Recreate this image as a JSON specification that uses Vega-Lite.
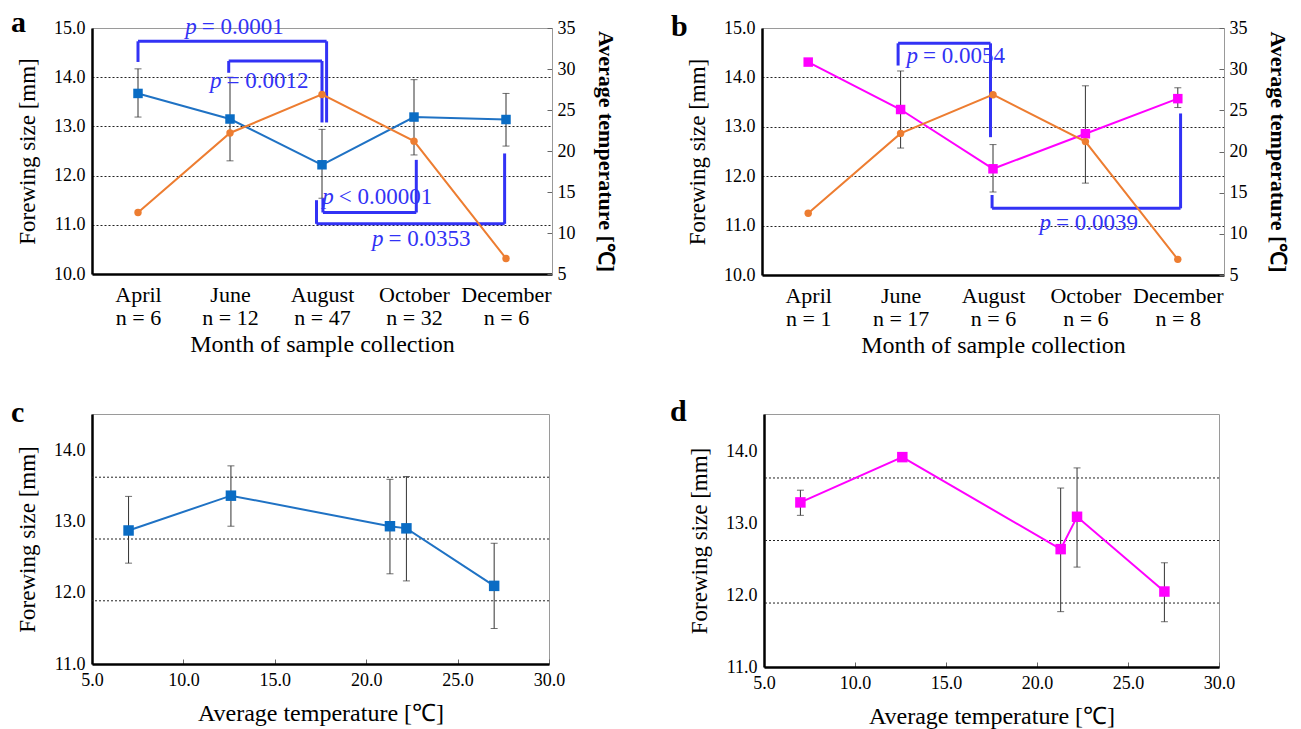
{
  "$schema": "https://vega.github.io/schema/vega-lite/v6.json",
  "padding": {"left": 10, "top": 7, "right": 0, "bottom": 0},
  "spacing": 38,
  "datasets": {
    "a_size": [
      {"month": "April", "n": 6, "idx": 0, "size": 13.67, "lo": 13.19, "hi": 14.17},
      {"month": "June", "n": 12, "idx": 1, "size": 13.15, "lo": 12.30, "hi": 14.00},
      {"month": "August", "n": 47, "idx": 2, "size": 12.22, "lo": 11.54, "hi": 12.94},
      {"month": "October", "n": 32, "idx": 3, "size": 13.19, "lo": 12.42, "hi": 13.95},
      {"month": "December", "n": 6, "idx": 4, "size": 13.14, "lo": 12.60, "hi": 13.67}
    ],
    "b_size": [
      {"month": "April", "n": 1, "idx": 0, "size": 14.31, "lo": null, "hi": null},
      {"month": "June", "n": 17, "idx": 1, "size": 13.35, "lo": 12.57, "hi": 14.13},
      {"month": "August", "n": 6, "idx": 2, "size": 12.15, "lo": 11.68, "hi": 12.64},
      {"month": "October", "n": 6, "idx": 3, "size": 12.86, "lo": 11.86, "hi": 13.83},
      {"month": "December", "n": 8, "idx": 4, "size": 13.57, "lo": 13.39, "hi": 13.79}
    ],
    "temp": [
      {"month": "April", "idx": 0, "temp": 12.5},
      {"month": "June", "idx": 1, "temp": 22.2},
      {"month": "August", "idx": 2, "temp": 26.9},
      {"month": "October", "idx": 3, "temp": 21.2},
      {"month": "December", "idx": 4, "temp": 6.9}
    ],
    "a_br": [
      {"bx": 0, "by": 14.31, "bx2": 0, "by2": 14.73},
      {"bx": 0, "by": 14.73, "bx2": 2.05, "by2": 14.73},
      {"bx": 2.05, "by": 14.73, "bx2": 2.05, "by2": 13.08},
      {"bx": 0.986, "by": 14.09, "bx2": 0.986, "by2": 14.33},
      {"bx": 0.986, "by": 14.33, "bx2": 2.0, "by2": 14.33},
      {"bx": 2.0, "by": 14.33, "bx2": 2.0, "by2": 13.08},
      {"bx": 2.01, "by": 11.54, "bx2": 2.01, "by2": 11.25},
      {"bx": 2.01, "by": 11.25, "bx2": 3.025, "by2": 11.25},
      {"bx": 3.025, "by": 11.25, "bx2": 3.025, "by2": 12.32},
      {"bx": 1.94, "by": 11.50, "bx2": 1.94, "by2": 11.02},
      {"bx": 1.94, "by": 11.02, "bx2": 3.985, "by2": 11.02},
      {"bx": 3.985, "by": 11.02, "bx2": 3.985, "by2": 12.45}
    ],
    "a_txt": [
      {"tx": 0.66, "ty": 15.03, "op": "= 0.0001"},
      {"tx": 0.93, "ty": 13.92, "op": "= 0.0012"},
      {"tx": 2.15, "ty": 11.56, "op": "< 0.00001"},
      {"tx": 2.69, "ty": 10.72, "op": "= 0.0353"}
    ],
    "b_br": [
      {"bx": 0.973, "by": 14.24, "bx2": 0.973, "by2": 14.69},
      {"bx": 0.973, "by": 14.69, "bx2": 1.973, "by2": 14.69},
      {"bx": 1.973, "by": 14.69, "bx2": 1.973, "by2": 12.79},
      {"bx": 1.99, "by": 11.62, "bx2": 1.99, "by2": 11.35},
      {"bx": 1.99, "by": 11.35, "bx2": 4.03, "by2": 11.35},
      {"bx": 4.03, "by": 11.35, "bx2": 4.03, "by2": 13.27}
    ],
    "b_txt": [
      {"tx": 1.21, "ty": 14.43, "op": "= 0.0054"},
      {"tx": 2.65, "ty": 11.05, "op": "= 0.0039"}
    ],
    "c_pts": [
      {"temp": 7.0, "size": 12.88, "lo": 12.42, "hi": 13.36},
      {"temp": 12.6, "size": 13.37, "lo": 12.94, "hi": 13.79},
      {"temp": 21.3, "size": 12.94, "lo": 12.27, "hi": 13.60},
      {"temp": 22.2, "size": 12.91, "lo": 12.17, "hi": 13.64},
      {"temp": 27.0, "size": 12.10, "lo": 11.50, "hi": 12.70}
    ],
    "d_pts": [
      {"temp": 7.0, "size": 13.29, "lo": 13.11, "hi": 13.46},
      {"temp": 12.6, "size": 13.92, "lo": null, "hi": null},
      {"temp": 21.3, "size": 12.64, "lo": 11.77, "hi": 13.49},
      {"temp": 22.2, "size": 13.09, "lo": 12.39, "hi": 13.77},
      {"temp": 27.0, "size": 12.05, "lo": 11.63, "hi": 12.45}
    ],
    "cd_grid": [
      {"g": 11.89}, {"g": 12.76}, {"g": 13.63}
    ]
  },
  "vconcat": [
    {
      "spacing": 53,
      "hconcat": [
        {
          "title": {"text": "a", "dx": -81, "offset": -22},
          "width": 460,
          "height": 246,
          "resolve": {"scale": {"y": "independent"}},
          "layer": [
            {
              "layer": [
                {
                  "data": {"name": "a_size"},
                  "mark": {"type": "rule", "color": "#333", "strokeWidth": 1},
                  "encoding": {
                    "x": {"field": "idx", "type": "quantitative", "title": "Month of sample collection",
                      "scale": {"domain": [-0.5, 4.5], "nice": false, "zero": false},
                      "axis": {"values": [0, 1, 2, 3, 4], "labelExpr": "[['April','n = 6'],['June','n = 12'],['August','n = 47'],['October','n = 32'],['December','n = 6']][datum.value]", "labelFontSize": 22, "labelLineHeight": 23, "labelPadding": 10, "labelOverlap": false, "labelFlush": false, "titleFontSize": 24, "titlePadding": 4}},
                    "y": {"field": "lo", "type": "quantitative", "title": "Forewing size [mm]",
                      "scale": {"domain": [10, 15], "nice": false, "zero": false},
                      "axis": {"values": [10, 11, 12, 13, 14, 15], "format": ".1f", "grid": true, "gridDash": [2, 2], "gridColor": "#222", "gridOpacity": {"condition": {"test": "datum.value == 10 || datum.value == 15", "value": 0}, "value": 1}, "labelFontSize": 18, "labelPadding": 7, "titleFontSize": 23, "titlePadding": 14}},
                    "y2": {"field": "hi"}
                  }
                },
                {
                  "data": {"name": "a_size"},
                  "mark": {"type": "tick", "orient": "horizontal", "size": 7, "thickness": 1, "color": "#333"},
                  "encoding": {
                    "x": {"field": "idx", "type": "quantitative", "title": "Month of sample collection"},
                    "y": {"field": "hi", "type": "quantitative", "title": "Forewing size [mm]"}
                  }
                },
                {
                  "data": {"name": "a_size"},
                  "mark": {"type": "tick", "orient": "horizontal", "size": 7, "thickness": 1, "color": "#333"},
                  "encoding": {
                    "x": {"field": "idx", "type": "quantitative", "title": "Month of sample collection"},
                    "y": {"field": "lo", "type": "quantitative", "title": "Forewing size [mm]"}
                  }
                },
                {
                  "data": {"name": "a_size"},
                  "mark": {"type": "line", "color": "#1f72c4", "strokeWidth": 2},
                  "encoding": {
                    "x": {"field": "idx", "type": "quantitative", "title": "Month of sample collection"},
                    "y": {"field": "size", "type": "quantitative", "title": "Forewing size [mm]"}
                  }
                },
                {
                  "data": {"name": "a_size"},
                  "mark": {"type": "square", "size": 90, "color": "#0a6cc4", "opacity": 1},
                  "encoding": {
                    "x": {"field": "idx", "type": "quantitative", "title": "Month of sample collection"},
                    "y": {"field": "size", "type": "quantitative", "title": "Forewing size [mm]"}
                  }
                },
                {
                  "data": {"name": "a_br"},
                  "mark": {"type": "rule", "color": "#3232f5", "strokeWidth": 3},
                  "encoding": {
                    "x": {"field": "bx", "type": "quantitative", "title": "Month of sample collection"},
                    "x2": {"field": "bx2"},
                    "y": {"field": "by", "type": "quantitative", "title": "Forewing size [mm]"},
                    "y2": {"field": "by2"}
                  }
                },
                {
                  "data": {"name": "a_txt"},
                  "mark": {"type": "text", "text": "p", "fontStyle": "italic", "align": "right", "baseline": "middle", "dx": -2, "fontSize": 23, "color": "#3232f5"},
                  "encoding": {
                    "x": {"field": "tx", "type": "quantitative", "title": "Month of sample collection"},
                    "y": {"field": "ty", "type": "quantitative", "title": "Forewing size [mm]"}
                  }
                },
                {
                  "data": {"name": "a_txt"},
                  "mark": {"type": "text", "align": "left", "baseline": "middle", "dx": 3, "fontSize": 23, "color": "#3232f5"},
                  "encoding": {
                    "x": {"field": "tx", "type": "quantitative", "title": "Month of sample collection"},
                    "y": {"field": "ty", "type": "quantitative", "title": "Forewing size [mm]"},
                    "text": {"field": "op"}
                  }
                }
              ]
            },
            {
              "data": {"name": "temp"},
              "encoding": {
                "x": {"field": "idx", "type": "quantitative", "title": "Month of sample collection"},
                "y": {"field": "temp", "type": "quantitative", "title": "Average temperature [℃]",
                  "scale": {"domain": [5, 35], "nice": false, "zero": false},
                  "axis": {"orient": "right", "values": [5, 10, 15, 20, 25, 30, 35], "labelFontSize": 18, "labelPadding": 10, "ticks": true, "tickSize": -5, "tickColor": "#666", "titleFontSize": 22, "titleFontWeight": "bold", "titlePadding": 18, "domainColor": "#999", "domainWidth": 1, "grid": false}}
              },
              "layer": [
                {"mark": {"type": "line", "color": "#ed7d31", "strokeWidth": 2}},
                {"mark": {"type": "circle", "size": 55, "color": "#ed7d31", "opacity": 1}}
              ]
            }
          ]
        },
        {
          "title": {"text": "b", "dx": -91, "offset": -23},
          "width": 462,
          "height": 247,
          "resolve": {"scale": {"y": "independent"}},
          "layer": [
            {
              "layer": [
                {
                  "data": {"name": "b_size"},
                  "mark": {"type": "rule", "color": "#333", "strokeWidth": 1},
                  "encoding": {
                    "x": {"field": "idx", "type": "quantitative", "title": "Month of sample collection",
                      "scale": {"domain": [-0.5, 4.5], "nice": false, "zero": false},
                      "axis": {"values": [0, 1, 2, 3, 4], "labelExpr": "[['April','n = 1'],['June','n = 17'],['August','n = 6'],['October','n = 6'],['December','n = 8']][datum.value]", "labelFontSize": 22, "labelLineHeight": 23, "labelPadding": 10, "labelOverlap": false, "labelFlush": false, "titleFontSize": 24, "titlePadding": 4}},
                    "y": {"field": "lo", "type": "quantitative", "title": "Forewing size [mm]",
                      "scale": {"domain": [10, 15], "nice": false, "zero": false},
                      "axis": {"values": [10, 11, 12, 13, 14, 15], "format": ".1f", "grid": true, "gridDash": [2, 2], "gridColor": "#222", "gridOpacity": {"condition": {"test": "datum.value == 10 || datum.value == 15", "value": 0}, "value": 1}, "labelFontSize": 18, "labelPadding": 7, "titleFontSize": 23, "titlePadding": 14}},
                    "y2": {"field": "hi"}
                  }
                },
                {
                  "data": {"name": "b_size"},
                  "mark": {"type": "tick", "orient": "horizontal", "size": 7, "thickness": 1, "color": "#333"},
                  "encoding": {
                    "x": {"field": "idx", "type": "quantitative", "title": "Month of sample collection"},
                    "y": {"field": "hi", "type": "quantitative", "title": "Forewing size [mm]"}
                  }
                },
                {
                  "data": {"name": "b_size"},
                  "mark": {"type": "tick", "orient": "horizontal", "size": 7, "thickness": 1, "color": "#333"},
                  "encoding": {
                    "x": {"field": "idx", "type": "quantitative", "title": "Month of sample collection"},
                    "y": {"field": "lo", "type": "quantitative", "title": "Forewing size [mm]"}
                  }
                },
                {
                  "data": {"name": "b_size"},
                  "mark": {"type": "line", "color": "#ff00ff", "strokeWidth": 2},
                  "encoding": {
                    "x": {"field": "idx", "type": "quantitative", "title": "Month of sample collection"},
                    "y": {"field": "size", "type": "quantitative", "title": "Forewing size [mm]"}
                  }
                },
                {
                  "data": {"name": "b_size"},
                  "mark": {"type": "square", "size": 90, "color": "#ff00ff", "opacity": 1},
                  "encoding": {
                    "x": {"field": "idx", "type": "quantitative", "title": "Month of sample collection"},
                    "y": {"field": "size", "type": "quantitative", "title": "Forewing size [mm]"}
                  }
                },
                {
                  "data": {"name": "b_br"},
                  "mark": {"type": "rule", "color": "#3232f5", "strokeWidth": 3},
                  "encoding": {
                    "x": {"field": "bx", "type": "quantitative", "title": "Month of sample collection"},
                    "x2": {"field": "bx2"},
                    "y": {"field": "by", "type": "quantitative", "title": "Forewing size [mm]"},
                    "y2": {"field": "by2"}
                  }
                },
                {
                  "data": {"name": "b_txt"},
                  "mark": {"type": "text", "text": "p", "fontStyle": "italic", "align": "right", "baseline": "middle", "dx": -2, "fontSize": 23, "color": "#3232f5"},
                  "encoding": {
                    "x": {"field": "tx", "type": "quantitative", "title": "Month of sample collection"},
                    "y": {"field": "ty", "type": "quantitative", "title": "Forewing size [mm]"}
                  }
                },
                {
                  "data": {"name": "b_txt"},
                  "mark": {"type": "text", "align": "left", "baseline": "middle", "dx": 3, "fontSize": 23, "color": "#3232f5"},
                  "encoding": {
                    "x": {"field": "tx", "type": "quantitative", "title": "Month of sample collection"},
                    "y": {"field": "ty", "type": "quantitative", "title": "Forewing size [mm]"},
                    "text": {"field": "op"}
                  }
                }
              ]
            },
            {
              "data": {"name": "temp"},
              "encoding": {
                "x": {"field": "idx", "type": "quantitative", "title": "Month of sample collection"},
                "y": {"field": "temp", "type": "quantitative", "title": "Average temperature [℃]",
                  "scale": {"domain": [5, 35], "nice": false, "zero": false},
                  "axis": {"orient": "right", "values": [5, 10, 15, 20, 25, 30, 35], "labelFontSize": 18, "labelPadding": 10, "ticks": true, "tickSize": -5, "tickColor": "#666", "titleFontSize": 22, "titleFontWeight": "bold", "titlePadding": 18, "domainColor": "#999", "domainWidth": 1, "grid": false}}
              },
              "layer": [
                {"mark": {"type": "line", "color": "#ed7d31", "strokeWidth": 2}},
                {"mark": {"type": "circle", "size": 55, "color": "#ed7d31", "opacity": 1}}
              ]
            }
          ]
        }
      ]
    },
    {
      "spacing": 103,
      "hconcat": [
        {
          "title": {"text": "c", "dx": -81, "offset": -14},
          "width": 457,
          "height": 250,
          "layer": [
            {
              "data": {"name": "cd_grid"},
              "mark": {"type": "rule", "color": "#222", "strokeWidth": 1, "strokeDash": [2, 2]},
              "encoding": {
                "y": {"field": "g", "type": "quantitative", "title": "Forewing size [mm]",
                  "scale": {"domain": [11, 14.52], "nice": false, "zero": false},
                  "axis": {"values": [11, 12, 13, 14], "format": ".1f", "labelFontSize": 18, "labelPadding": 7, "titleFontSize": 23, "titlePadding": 14}}
              }
            },
            {
              "data": {"name": "c_pts"},
              "mark": {"type": "rule", "color": "#333", "strokeWidth": 1},
              "encoding": {
                "x": {"field": "temp", "type": "quantitative", "title": "Average temperature [℃]",
                  "scale": {"domain": [5, 30], "nice": false, "zero": false},
                  "axis": {"values": [5, 10, 15, 20, 25, 30], "format": ".1f", "labelFlush": false, "ticks": true, "tickSize": -5, "tickColor": "#666", "labelFontSize": 18, "labelPadding": 12, "titleFontSize": 24, "titlePadding": 12}},
                "y": {"field": "lo", "type": "quantitative", "title": "Forewing size [mm]"},
                "y2": {"field": "hi"}
              }
            },
            {
              "data": {"name": "c_pts"},
              "mark": {"type": "tick", "orient": "horizontal", "size": 7, "thickness": 1, "color": "#333"},
              "encoding": {
                "x": {"field": "temp", "type": "quantitative", "title": "Average temperature [℃]"},
                "y": {"field": "hi", "type": "quantitative", "title": "Forewing size [mm]"}
              }
            },
            {
              "data": {"name": "c_pts"},
              "mark": {"type": "tick", "orient": "horizontal", "size": 7, "thickness": 1, "color": "#333"},
              "encoding": {
                "x": {"field": "temp", "type": "quantitative", "title": "Average temperature [℃]"},
                "y": {"field": "lo", "type": "quantitative", "title": "Forewing size [mm]"}
              }
            },
            {
              "data": {"name": "c_pts"},
              "mark": {"type": "line", "color": "#1f72c4", "strokeWidth": 2},
              "encoding": {
                "x": {"field": "temp", "type": "quantitative", "title": "Average temperature [℃]"},
                "y": {"field": "size", "type": "quantitative", "title": "Forewing size [mm]"}
              }
            },
            {
              "data": {"name": "c_pts"},
              "mark": {"type": "square", "size": 110, "color": "#0a6cc4", "opacity": 1},
              "encoding": {
                "x": {"field": "temp", "type": "quantitative", "title": "Average temperature [℃]"},
                "y": {"field": "size", "type": "quantitative", "title": "Forewing size [mm]"}
              }
            }
          ]
        },
        {
          "title": {"text": "d", "dx": -94, "offset": -13},
          "width": 455,
          "height": 253,
          "layer": [
            {
              "data": {"name": "cd_grid"},
              "mark": {"type": "rule", "color": "#222", "strokeWidth": 1, "strokeDash": [2, 2]},
              "encoding": {
                "y": {"field": "g", "type": "quantitative", "title": "Forewing size [mm]",
                  "scale": {"domain": [11, 14.52], "nice": false, "zero": false},
                  "axis": {"values": [11, 12, 13, 14], "format": ".1f", "labelFontSize": 18, "labelPadding": 7, "titleFontSize": 23, "titlePadding": 14}}
              }
            },
            {
              "data": {"name": "d_pts"},
              "mark": {"type": "rule", "color": "#333", "strokeWidth": 1},
              "encoding": {
                "x": {"field": "temp", "type": "quantitative", "title": "Average temperature [℃]",
                  "scale": {"domain": [5, 30], "nice": false, "zero": false},
                  "axis": {"values": [5, 10, 15, 20, 25, 30], "format": ".1f", "labelFlush": false, "ticks": true, "tickSize": -5, "tickColor": "#666", "labelFontSize": 18, "labelPadding": 12, "titleFontSize": 24, "titlePadding": 12}},
                "y": {"field": "lo", "type": "quantitative", "title": "Forewing size [mm]"},
                "y2": {"field": "hi"}
              }
            },
            {
              "data": {"name": "d_pts"},
              "mark": {"type": "tick", "orient": "horizontal", "size": 7, "thickness": 1, "color": "#333"},
              "encoding": {
                "x": {"field": "temp", "type": "quantitative", "title": "Average temperature [℃]"},
                "y": {"field": "hi", "type": "quantitative", "title": "Forewing size [mm]"}
              }
            },
            {
              "data": {"name": "d_pts"},
              "mark": {"type": "tick", "orient": "horizontal", "size": 7, "thickness": 1, "color": "#333"},
              "encoding": {
                "x": {"field": "temp", "type": "quantitative", "title": "Average temperature [℃]"},
                "y": {"field": "lo", "type": "quantitative", "title": "Forewing size [mm]"}
              }
            },
            {
              "data": {"name": "d_pts"},
              "mark": {"type": "line", "color": "#ff00ff", "strokeWidth": 2},
              "encoding": {
                "x": {"field": "temp", "type": "quantitative", "title": "Average temperature [℃]"},
                "y": {"field": "size", "type": "quantitative", "title": "Forewing size [mm]"}
              }
            },
            {
              "data": {"name": "d_pts"},
              "mark": {"type": "square", "size": 110, "color": "#ff00ff", "opacity": 1},
              "encoding": {
                "x": {"field": "temp", "type": "quantitative", "title": "Average temperature [℃]"},
                "y": {"field": "size", "type": "quantitative", "title": "Forewing size [mm]"}
              }
            }
          ]
        }
      ]
    }
  ],
  "config": {
    "font": "Liberation Serif",
    "text": {"font": "Liberation Serif"},
    "view": {"stroke": "#9a9a9a", "strokeWidth": 1},
    "axis": {
      "labelFont": "Liberation Serif",
      "titleFont": "Liberation Serif",
      "labelColor": "#000",
      "titleColor": "#000",
      "titleFontWeight": "normal",
      "grid": false,
      "ticks": false,
      "domainColor": "#000",
      "domainWidth": 2.5
    },
    "title": {
      "font": "Liberation Serif",
      "fontSize": 30,
      "fontWeight": "bold",
      "anchor": "start",
      "frame": "group",
      "color": "#000",
      "baseline": "alphabetic"
    }
  }
}
